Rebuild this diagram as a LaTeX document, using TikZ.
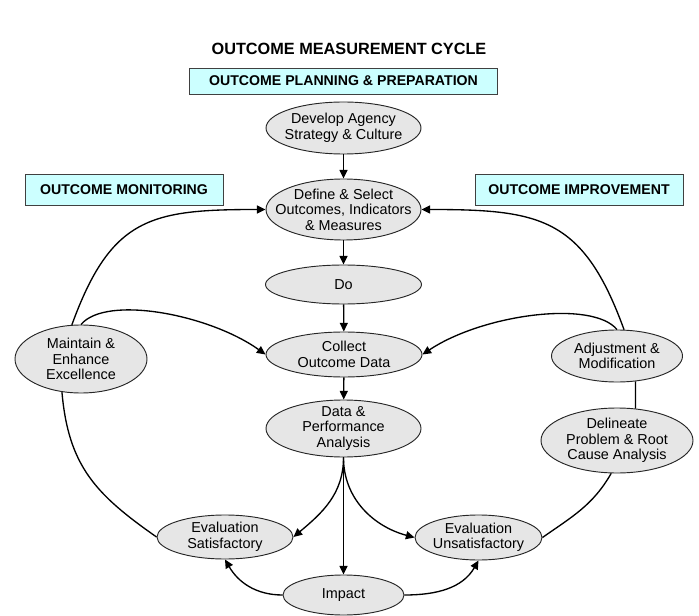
\documentclass[tikz,border=0pt]{standalone}
\usepackage{fontspec}
\setmainfont{Liberation Sans}
\usetikzlibrary{shapes.geometric,arrows.meta}
\definecolor{phasecyan}{HTML}{CCFFFF}
\definecolor{stagegray}{HTML}{E6E6E6}
\tikzset{
  phase/.style={draw=black!75, fill=phasecyan, inner sep=0pt,
    font=\fontsize{10.6}{12}\selectfont\bfseries},
  stage/.style={ellipse, draw=black!85, fill=stagegray, line width=0.7pt,
    inner sep=-1cm, align=center, font=\fontsize{10.8}{11.6}\selectfont},
  flow/.style={-{Triangle[length=6.5pt,width=6pt]}, line width=1pt},
  link/.style={line width=1pt}
}
\begin{document}
\begin{tikzpicture}[x=0.75pt,y=-0.75pt]
\useasboundingbox (0,0) rectangle (699,616);

\node[font=\fontsize{12.2}{14}\selectfont\bfseries] (title) at (349,49) {OUTCOME MEASUREMENT CYCLE};

\node[phase, minimum width=231pt, minimum height=19.5pt] (planning) at (343.5,81) {OUTCOME PLANNING \& PREPARATION};
\node[phase, minimum width=148.5pt, minimum height=23.25pt] (monitoring) at (124,189.5) {OUTCOME MONITORING};
\node[phase, minimum width=156pt, minimum height=23.25pt] (improvement) at (579,189.5) {OUTCOME IMPROVEMENT};

% central column
\node[stage, minimum width=116.25pt, minimum height=39pt] (develop) at (343.5,128) {Develop Agency\\Strategy \& Culture};
\node[stage, minimum width=116.25pt, minimum height=45.75pt] (define) at (343.5,209.5) {Define \& Select\\Outcomes, Indicators\\\& Measures};
\node[stage, minimum width=117pt, minimum height=29.25pt] (do) at (343.5,284.5) {Do};
\node[stage, minimum width=117pt, minimum height=33.75pt] (collect) at (344,354.5) {Collect\\Outcome Data};
\node[stage, minimum width=116.25pt, minimum height=42.75pt] (analysis) at (343.5,428.5) {Data \&\\Performance\\Analysis};
\node[stage, minimum width=90.75pt, minimum height=30pt] (impact) at (343.5,595) {Impact};

% both sides
\node[stage, minimum width=99pt, minimum height=51pt] (maintain) at (81,359) {Maintain \&\\Enhance\\Excellence};
\node[stage, minimum width=102pt, minimum height=33pt] (evalsat) at (225,537) {Evaluation\\Satisfactory};
\node[stage, minimum width=98.25pt, minimum height=39pt] (adjust) at (617,356) {Adjustment \&\\Modification};
\node[stage, minimum width=114pt, minimum height=48.75pt] (delineate) at (617,440.5) {Delineate\\Problem \& Root\\Cause Analysis};
\node[stage, minimum width=95.25pt, minimum height=33.75pt] (evalunsat) at (478.5,537.5) {Evaluation\\Unsatisfactory};

\draw[flow] (develop) -- (define);
\draw[flow] (define) -- (do);
\draw[flow] (do) -- (collect);
\draw[flow] (collect) -- (analysis);
\draw[flow] (analysis) -- (impact);

\draw[flow] (analysis.south) to[out=-90,in=40] (evalsat.east);
\draw[flow] (analysis.south) to[out=-90,in=165] (evalunsat.west);
\draw[flow] (impact.west) to[out=180,in=-60] (evalsat.south);
\draw[flow] (impact.east) to[out=0,in=-120] (evalunsat.south);

\draw[link] (evalsat.west) to[out=145,in=-85,looseness=1.1] (maintain.240);
\draw[flow] (maintain.105) to[out=70,in=180,looseness=1.3] (define.west);
\draw[flow] (maintain.north) .. controls +(25,-30) and +(-56,-40) .. (collect.west);

\draw[link] (evalunsat.east) to[out=35,in=240] (delineate.260);
\draw[link] (delineate.60) -- (adjust.-54);
\draw[flow] (adjust.75) to[out=110,in=0,looseness=1.3] (define.east);
\draw[flow] (adjust.north) .. controls +(-25,-30) and +(60,-40) .. (collect.east);
\end{tikzpicture}
\end{document}
